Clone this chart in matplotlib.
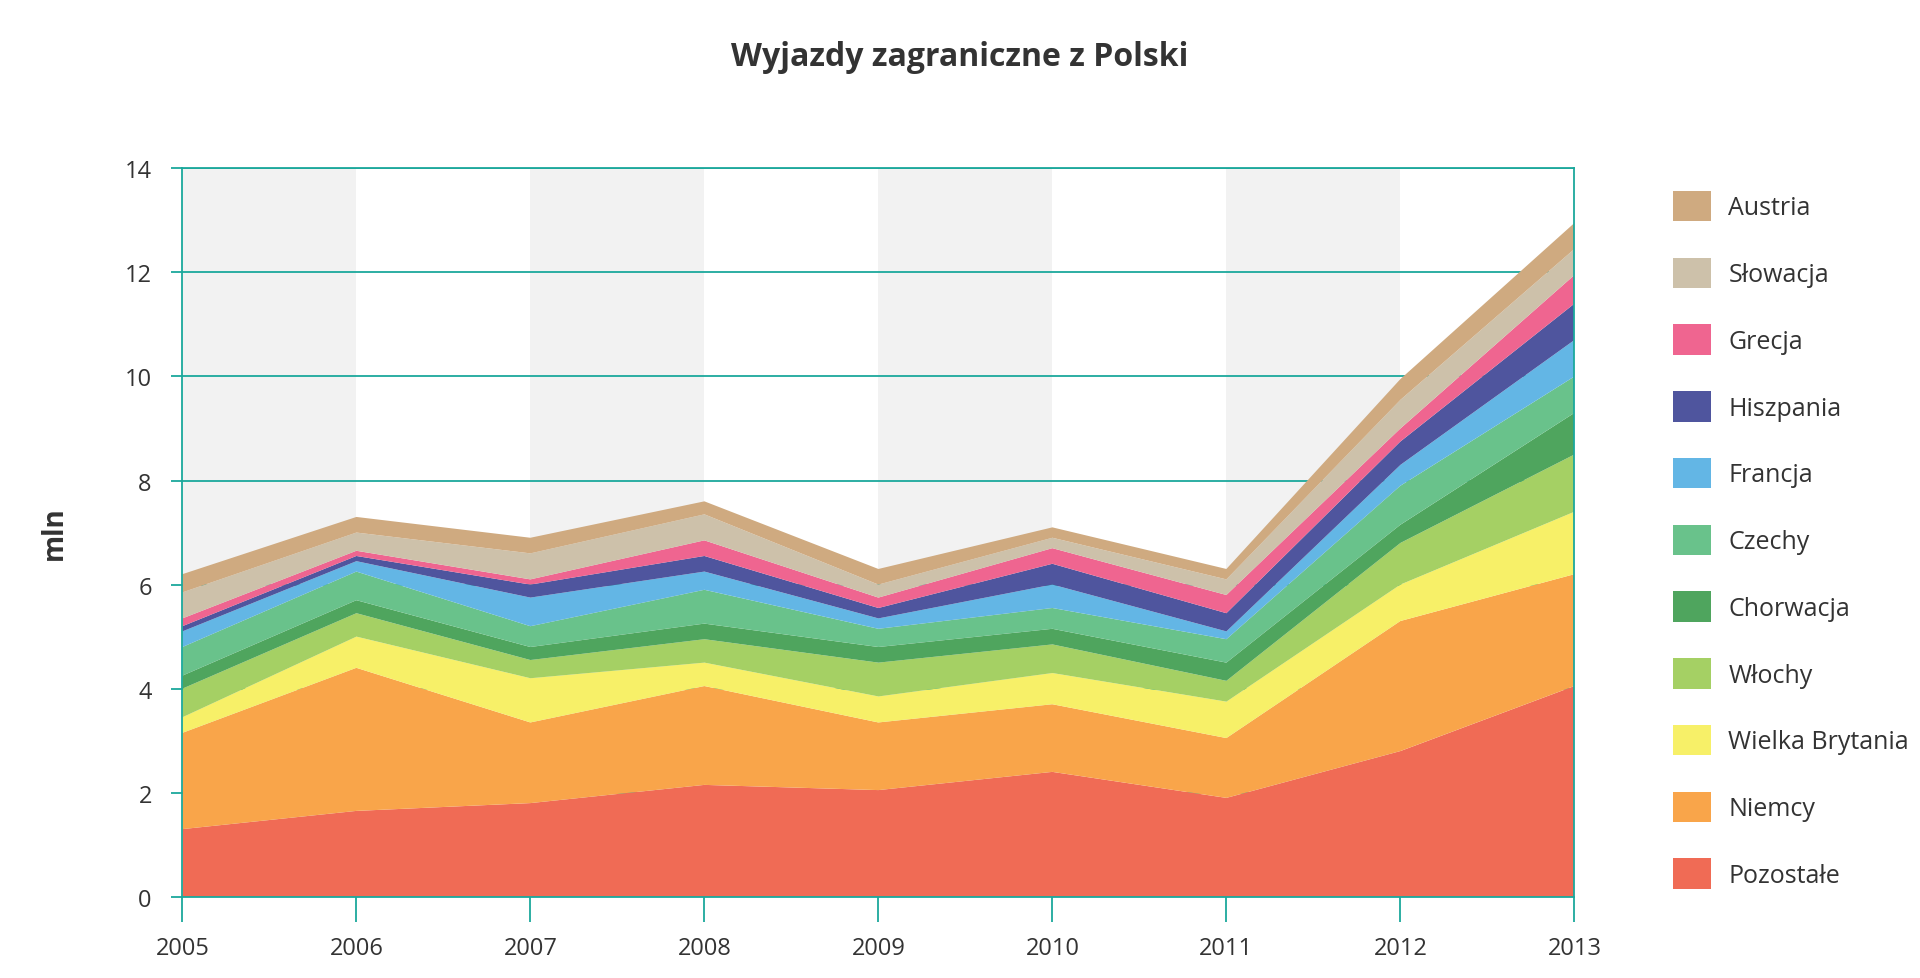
import numpy as np
import matplotlib.pyplot as plt
from matplotlib.patches import Patch

plt.rcParams['font.family'] = 'Open Sans'

years = [2005, 2006, 2007, 2008, 2009, 2010, 2011, 2012, 2013]
pozostale = [1.3, 1.65, 1.8, 2.15, 2.05, 2.4, 1.9, 2.8, 4.05]
niemcy = [1.85, 2.75, 1.55, 1.9, 1.3, 1.3, 1.15, 2.5, 2.15]
wielka_brytania = [0.3, 0.6, 0.85, 0.45, 0.5, 0.6, 0.7, 0.7, 1.2]
wlochy = [0.55, 0.45, 0.35, 0.45, 0.65, 0.55, 0.4, 0.8, 1.1]
chorwacja = [0.25, 0.25, 0.25, 0.3, 0.3, 0.3, 0.35, 0.35, 0.8]
czechy = [0.55, 0.55, 0.4, 0.65, 0.35, 0.4, 0.45, 0.75, 0.7]
francja = [0.3, 0.2, 0.55, 0.35, 0.2, 0.45, 0.15, 0.4, 0.7]
hiszpania = [0.1, 0.1, 0.25, 0.3, 0.2, 0.4, 0.35, 0.45, 0.7]
grecja = [0.15, 0.1, 0.1, 0.3, 0.2, 0.3, 0.35, 0.25, 0.55]
slowacja = [0.5, 0.35, 0.5, 0.5, 0.25, 0.2, 0.3, 0.55, 0.5]
austria = [0.35, 0.3, 0.3, 0.25, 0.3, 0.2, 0.2, 0.4, 0.5]

labels = ['Pozostałe', 'Niemcy', 'Wielka Brytania', 'Włochy', 'Chorwacja', 'Czechy',
          'Francja', 'Hiszpania', 'Grecja', 'Słowacja', 'Austria']
colors = ['#f06b55', '#f9a54a', '#f7f068', '#a5d064', '#4fa55e', '#69c28b',
          '#63b6e5', '#4f559e', '#ef6590', '#cdc1aa', '#cfaa80']
series = [pozostale, niemcy, wielka_brytania, wlochy, chorwacja, czechy,
          francja, hiszpania, grecja, slowacja, austria]

teal = '#1ba89c'
fig = plt.figure(figsize=(19.2, 9.79), dpi=100)
ax = fig.add_axes([0.095, 0.083, 0.725, 0.744])
ax.set_axisbelow(True)

# alternating background bands
for i in range(0, len(years) - 1, 2):
    ax.axvspan(years[i], years[i + 1], color='#f2f2f2', zorder=0, lw=0)

ax.stackplot(years, *series, colors=colors, zorder=2, lw=0)

ax.set_xlim(2005, 2013)
ax.set_ylim(0, 14)
ax.set_yticks(range(0, 15, 2))
ax.set_xticks(years)
ax.grid(axis='y', color=teal, lw=1.3)
for s in ax.spines.values():
    s.set_color(teal)
    s.set_linewidth(1.3)
    s.set_zorder(3)
ax.tick_params(axis='x', colors=teal, length=18, width=1.3, labelsize=17, labelcolor='#333333', pad=10)
ax.tick_params(axis='y', colors=teal, length=8, width=1.3, labelsize=17, labelcolor='#333333', pad=14)
ax.set_ylabel('mln', fontsize=20, fontweight='bold', color='#333333', labelpad=40)

fig.suptitle('Wyjazdy zagraniczne z Polski', fontsize=23, fontweight='bold', color='#333333', y=0.958)

handles = [Patch(facecolor=c, edgecolor='none') for c in colors][::-1]
ax.legend(handles, labels[::-1], loc='upper left', bbox_to_anchor=(1.055, 1.0), frameon=False,
          fontsize=18, handlelength=1.5, handleheight=1.5, labelspacing=1.45, handletextpad=0.7,
          labelcolor='#333333')

fig.savefig('out.png', dpi=100)
